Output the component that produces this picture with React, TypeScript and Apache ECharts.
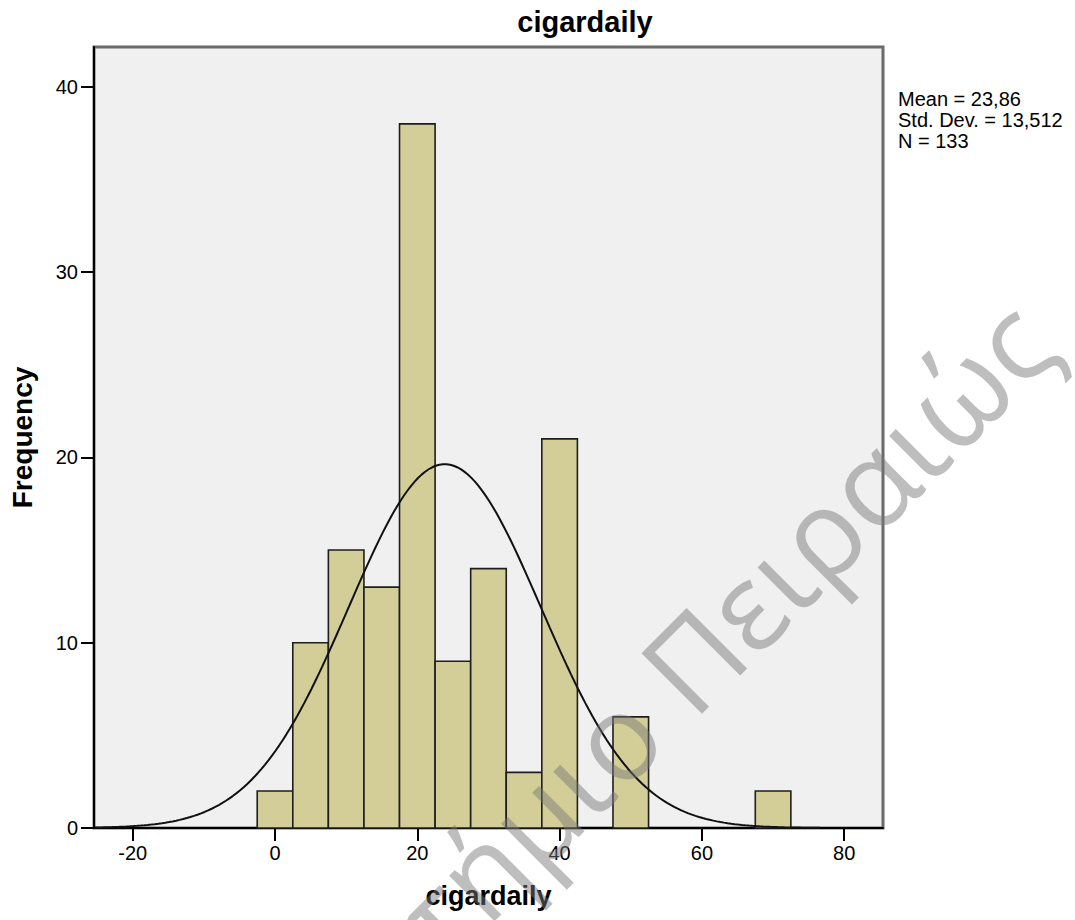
import React, { useEffect, useRef } from "react";
import * as echarts from "echarts";

// ---- data ----
const binCenters = [0, 5, 10, 15, 20, 25, 30, 35, 40, 45, 50, 55, 60, 65, 70];
const binCounts = [2, 10, 15, 13, 38, 9, 14, 3, 21, 0, 6, 0, 0, 0, 2];
const binWidth = 5;
const xTicks = [-20, 0, 20, 40, 60, 80];
const yTicks = [0, 10, 20, 30, 40];
const statMean = 23.86;
const statSd = 13.512;
const statN = 133;
const statLines = ["Mean = 23,86", "Std. Dev. = 13,512", "N = 133"];
const titleText = "cigardaily";
const xName = "cigardaily";
const yName = "Frequency";
const watermark = "Πανεπιστήμιο Πειραιώς";
const curveRange = [-25.4, 77];

export default function App() {
  const ref = useRef<HTMLDivElement>(null);
  useEffect(() => {
    if (!ref.current) return;
    const chart = echarts.init(ref.current, null, { renderer: "svg" });

    const barData = binCenters
      .map((c, i) => [c - binWidth / 2, c + binWidth / 2, binCounts[i]])
      .filter((d) => d[2] > 0);

    // fitted normal curve defined by the displayed Mean / Std. Dev. / N
    const curve: number[][] = [];
    const scale = (statN * binWidth) / (statSd * Math.sqrt(2 * Math.PI));
    for (let x = curveRange[0]; x <= curveRange[1] + 1e-9; x += 0.5) {
      const z = (x - statMean) / statSd;
      curve.push([x, scale * Math.exp(-0.5 * z * z)]);
    }

    const font = "'Liberation Sans', Arial, sans-serif";

    chart.setOption({
      animation: false,
      backgroundColor: "#ffffff",
      grid: {
        left: 94,
        right: 192,
        top: 47,
        bottom: 92,
        show: true,
        backgroundColor: "#f0f0f0",
        borderColor: "#6a6a6a",
        borderWidth: 3,
      },
      xAxis: {
        type: "value",
        min: -25.44,
        max: 85.45,
        name: xName,
        nameLocation: "middle",
        nameGap: 54,
        nameTextStyle: { fontFamily: font, fontWeight: "bold", fontSize: 27, color: "#000" },
        splitLine: { show: false },
        axisLine: { show: true, onZero: false, lineStyle: { color: "#000", width: 2 } },
        axisTick: { show: true, length: 13, customValues: xTicks, lineStyle: { color: "#000", width: 2 } },
        axisLabel: { customValues: xTicks, margin: 15, fontFamily: font, fontSize: 20, color: "#000" },
      },
      yAxis: {
        type: "value",
        min: 0,
        max: 42.15,
        name: yName,
        nameLocation: "middle",
        nameGap: 58,
        nameTextStyle: { fontFamily: font, fontWeight: "bold", fontSize: 28, color: "#000" },
        splitLine: { show: false },
        axisLine: { show: true, onZero: false, lineStyle: { color: "#000", width: 2 } },
        axisTick: { show: true, length: 13, customValues: yTicks, lineStyle: { color: "#000", width: 2 } },
        axisLabel: { customValues: yTicks, margin: 16, fontFamily: font, fontSize: 20, color: "#000" },
      },
      series: [
        {
          type: "custom",
          data: barData,
          encode: { x: [0, 1], y: 2 },
          renderItem: (params: any, api: any) => {
            const p0 = api.coord([api.value(0), api.value(2)]);
            const p1 = api.coord([api.value(1), 0]);
            return {
              type: "rect",
              shape: { x: p0[0], y: p0[1], width: p1[0] - p0[0], height: p1[1] - p0[1] },
              style: { fill: "#d3ce97", stroke: "#1e1e1e", lineWidth: 1.6 },
            };
          },
          z: 2,
        },
        {
          type: "line",
          data: curve,
          showSymbol: false,
          symbol: "none",
          lineStyle: { color: "#111", width: 2 },
          z: 3,
        },
      ],
      graphic: [
        {
          type: "text",
          x: 585,
          y: 7,
          style: {
            text: titleText,
            fontFamily: font,
            fontWeight: "bold",
            fontSize: 29,
            fill: "#000",
            align: "center",
            verticalAlign: "top",
          },
        },
        {
          type: "text",
          x: 898,
          y: 88,
          style: {
            text: statLines.join("\n"),
            fontFamily: font,
            fontSize: 20,
            lineHeight: 21,
            fill: "#000",
            align: "left",
            verticalAlign: "top",
          },
        },
        {
          type: "text",
          x: 1030,
          y: 320,
          rotation: Math.PI / 4,
          z: 100,
          silent: true,
          style: {
            text: watermark,
            fontFamily: "'Open Sans', 'Noto Sans', sans-serif",
            fontSize: 120,
            fill: "rgba(120,120,120,0.48)",
            align: "right",
            verticalAlign: "middle",
          },
        },
      ],
    });
    return () => chart.dispose();
  }, []);

  return (
    <div
      ref={ref}
      style={{ position: "absolute", left: 0, top: 0, width: 1075, height: 920 }}
    />
  );
}
